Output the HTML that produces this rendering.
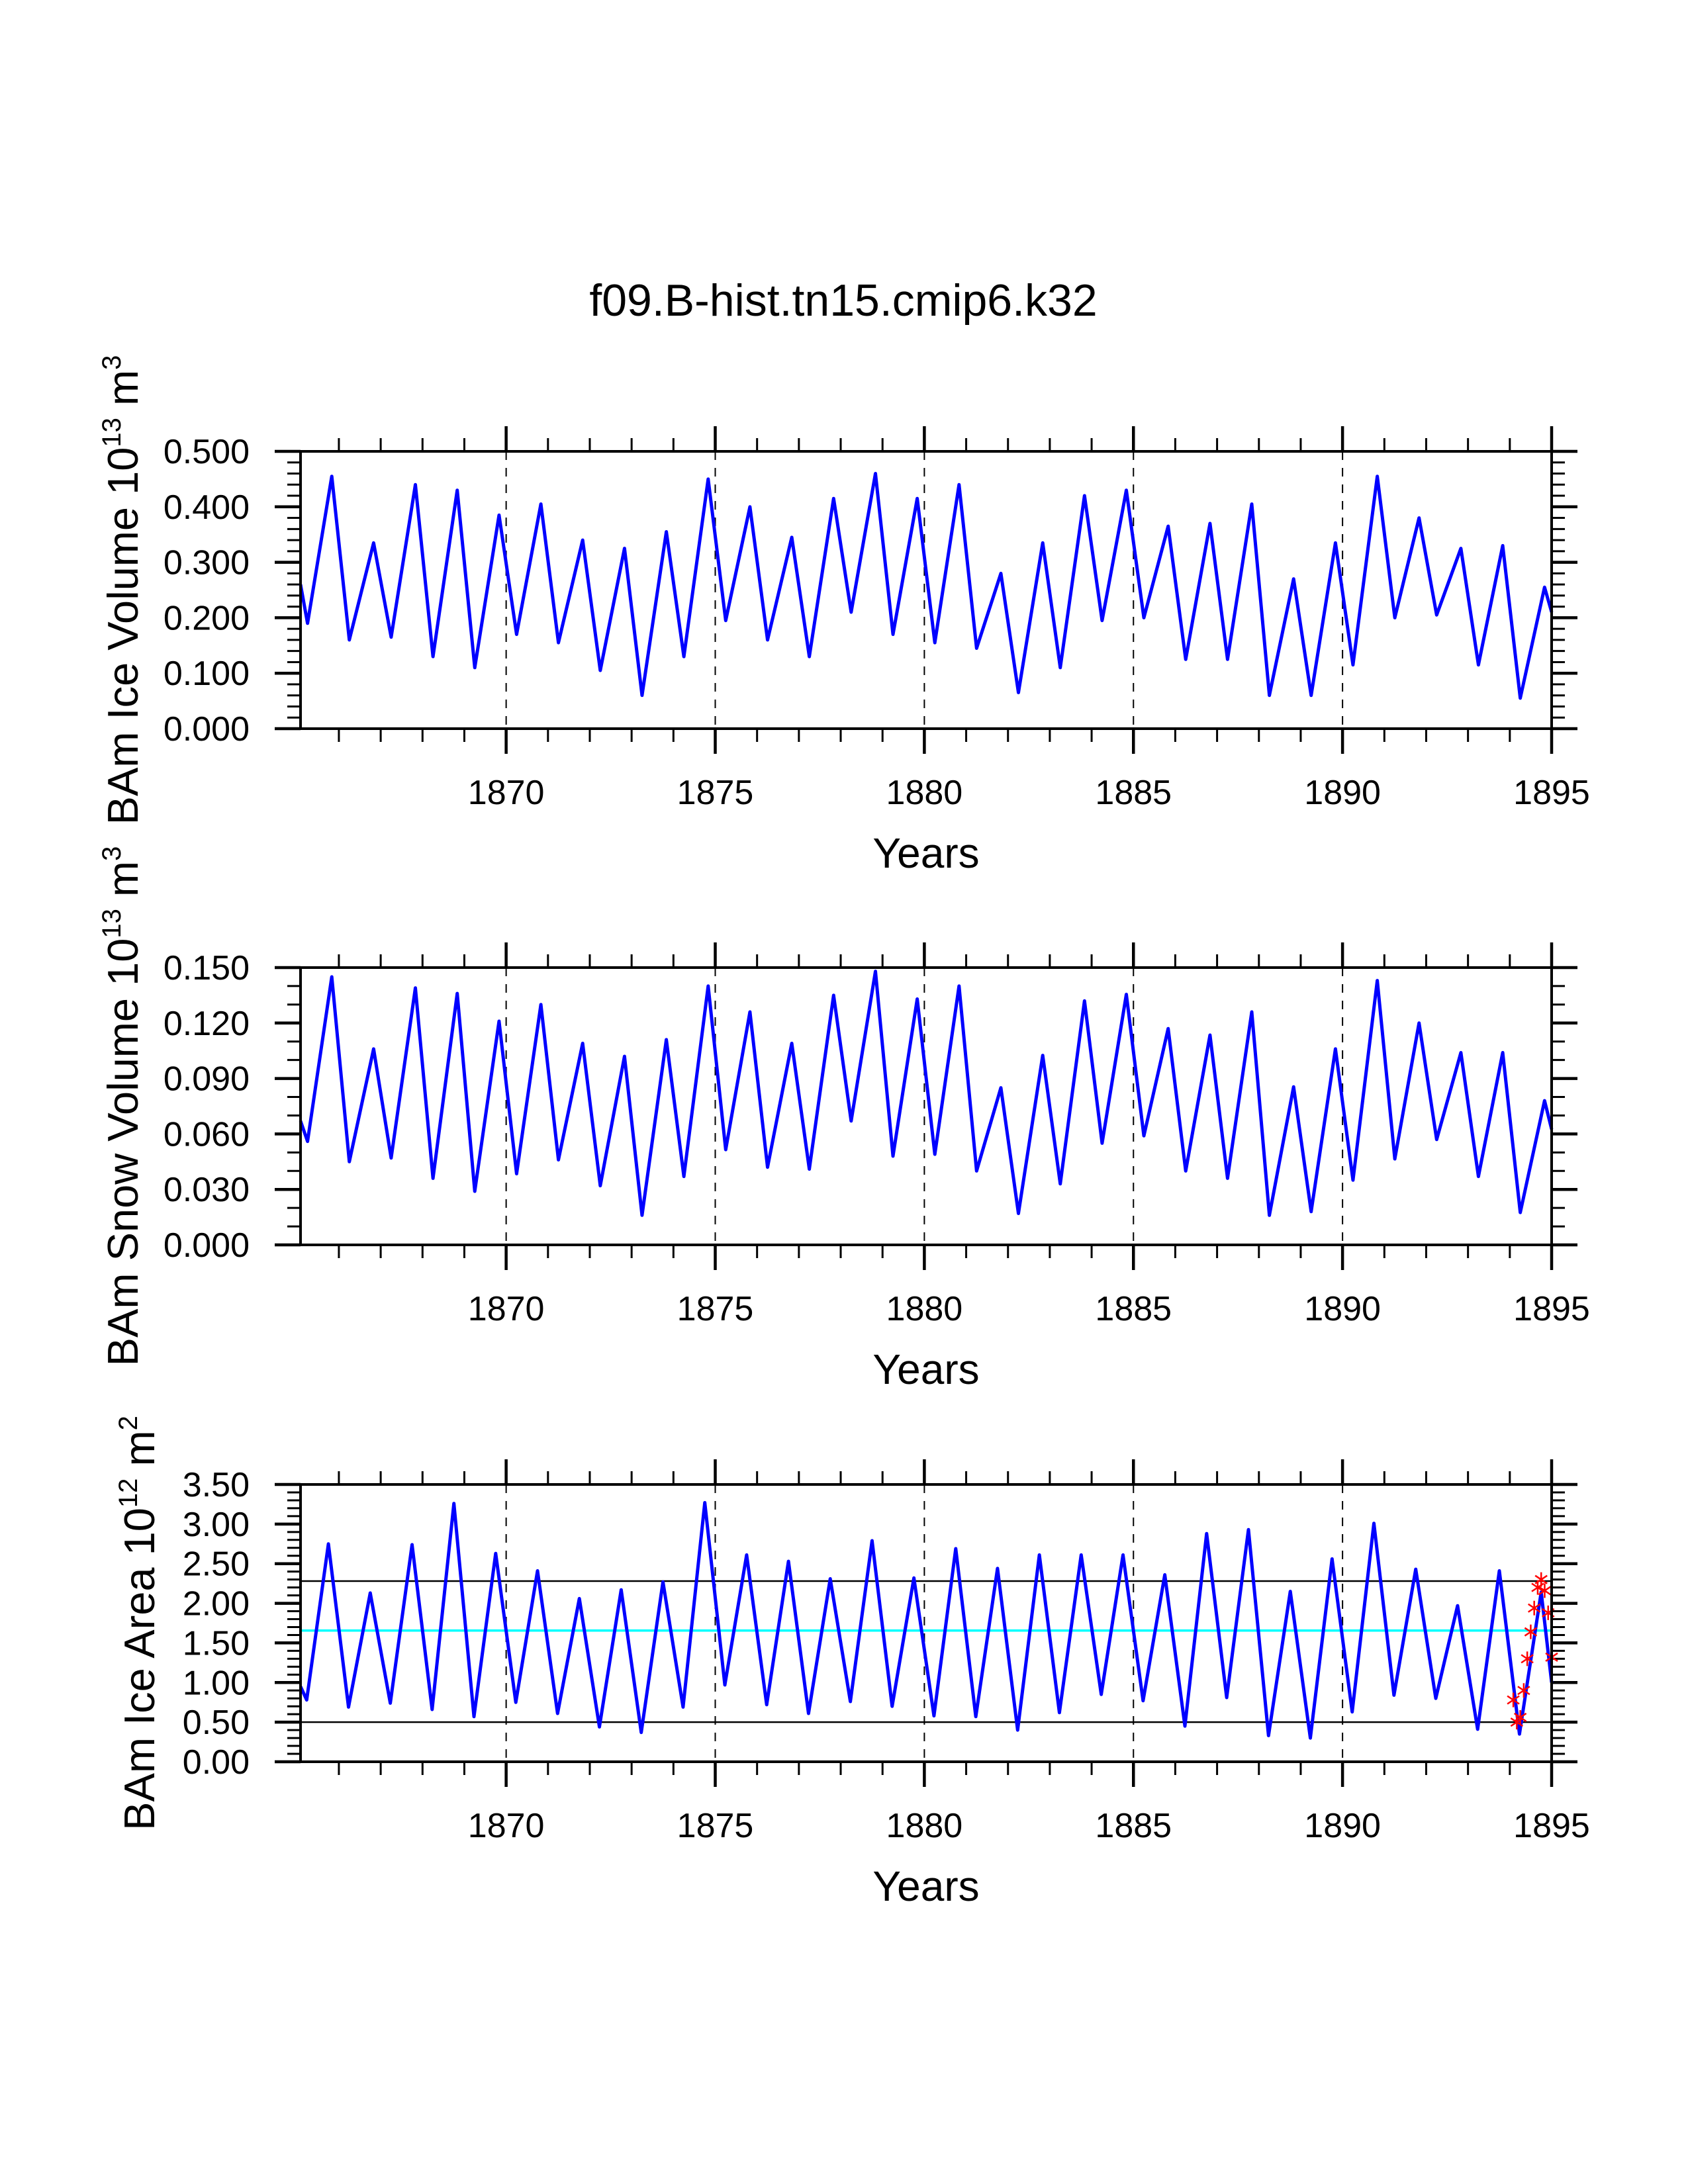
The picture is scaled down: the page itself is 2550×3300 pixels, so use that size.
<!DOCTYPE html>
<html><head><meta charset="utf-8"><style>
html,body{margin:0;padding:0;background:#fff}
svg{display:block}
text{font-family:"Liberation Sans",sans-serif;fill:#000}
</style></head><body>
<svg id="fig" width="2550" height="3300" viewBox="0 0 2550 3300" xmlns="http://www.w3.org/2000/svg">
<rect width="2550" height="3300" fill="#fff"/>
<text x="1274" y="477" font-size="68" text-anchor="middle">f09.B-hist.tn15.cmip6.k32</text>
</svg>
<script>
// ---- data ----
const years = [1865,1866,1867,1868,1869,1870,1871,1872,1873,1874,1875,1876,1877,1878,1879,1880,1881,1882,1883,1884,1885,1886,1887,1888,1889,1890,1891,1892,1893,1894];
const iceVolMin = [0.19,0.16,0.165,0.13,0.11,0.17,0.155,0.105,0.06,0.13,0.195,0.16,0.13,0.21,0.17,0.155,0.145,0.065,0.11,0.195,0.20,0.125,0.125,0.06,0.06,0.115,0.20,0.205,0.115,0.055];
const iceVolMax = [0.455,0.335,0.44,0.43,0.385,0.405,0.34,0.325,0.355,0.45,0.40,0.345,0.415,0.46,0.415,0.44,0.28,0.335,0.42,0.43,0.365,0.37,0.405,0.27,0.335,0.455,0.38,0.325,0.33,0.255];
const iceVolEnds = [0.26,0.21];
const snowMin = [0.056,0.045,0.047,0.036,0.029,0.0385,0.046,0.032,0.016,0.037,0.0515,0.042,0.041,0.067,0.048,0.049,0.040,0.017,0.033,0.055,0.059,0.040,0.036,0.016,0.018,0.035,0.0465,0.057,0.037,0.0175];
const snowMax = [0.145,0.106,0.139,0.136,0.121,0.130,0.109,0.102,0.111,0.140,0.126,0.109,0.135,0.148,0.133,0.140,0.085,0.1025,0.132,0.1355,0.117,0.1135,0.126,0.0855,0.106,0.143,0.120,0.104,0.104,0.078];
const snowEnds = [0.067,0.0625];
const areaMin = [0.78,0.69,0.74,0.66,0.57,0.75,0.61,0.44,0.37,0.69,0.97,0.72,0.61,0.76,0.70,0.58,0.57,0.40,0.62,0.85,0.77,0.45,0.81,0.33,0.30,0.63,0.84,0.80,0.41,0.35];
const areaMax = [2.75,2.13,2.74,3.26,2.63,2.41,2.06,2.17,2.27,3.27,2.61,2.53,2.31,2.79,2.32,2.69,2.44,2.61,2.61,2.61,2.36,2.88,2.93,2.15,2.56,3.01,2.43,1.97,2.41,2.14];
const areaEnds = [0.95,1.0];
const volMinT = 0.25, volMaxT = 0.83, areaMinT = 0.23, areaMaxT = 0.75;
const startT = 1865.083, endT = 1895.0;
const obsMonths = [1,2,3,4,5,6,7,8,9,10,11,12];
const obsArea = [0.78,0.50,0.56,0.90,1.30,1.64,1.94,2.20,2.30,2.16,1.88,1.32];
const areaRefLines = [2.28,0.5];
const areaMean = 1.656;
const xMajor = [1870,1875,1880,1885,1890,1895];
const xMinor = [1866,1867,1868,1869,1871,1872,1873,1874,1876,1877,1878,1879,1881,1882,1883,1884,1886,1887,1888,1889,1891,1892,1893,1894];
const ticks1 = ["0.000","0.100","0.200","0.300","0.400","0.500"];
const ticks2 = ["0.000","0.030","0.060","0.090","0.120","0.150"];
const ticks3 = ["0.00","0.50","1.00","1.50","2.00","2.50","3.00","3.50"];

// ---- layout ----
const NS = "http://www.w3.org/2000/svg";
const svg = document.getElementById('fig');
const L = 454, R = 2344, H = 419;
function el(tag, attrs, parent){const e=document.createElementNS(NS,tag);for(const k in attrs)e.setAttribute(k,attrs[k]);(parent||svg).appendChild(e);return e;}
function xs(t){return L + (t - startT)/(endT - startT)*(R-L);}

function panel(top, ymax, ticks, minorStep, name, titleParts, titleX){
  const g = el('g',{});
  
  
  const B = top + H;
  const ys = v => B - v/ymax*H;
  xMajor.slice(0,5).forEach(yr=>{
    const ln = el('line',{x1:xs(yr),x2:xs(yr),y1:top,y2:B,stroke:'#000','stroke-width':2,'stroke-dasharray':'13 12'},g);
    
    
  });
  xMajor.forEach(yr=>{
    const x = xs(yr);
    el('line',{x1:x,x2:x,y1:B,y2:B+38,stroke:'#000','stroke-width':4.5},g);
    el('line',{x1:x,x2:x,y1:top,y2:top-38,stroke:'#000','stroke-width':4.5},g);
    const t = el('text',{x:x,y:B+114,'font-size':52,'text-anchor':'middle'},g);
    t.textContent = yr;
    
    
  });
  xMinor.forEach(yr=>{
    const x = xs(yr);
    el('line',{x1:x,x2:x,y1:B,y2:B+20,stroke:'#000','stroke-width':3},g);
    el('line',{x1:x,x2:x,y1:top,y2:top-20,stroke:'#000','stroke-width':3},g);
  });
  const majStep = ymax/(ticks.length-1);
  ticks.forEach((lab,i)=>{
    const y = ys(i*majStep);
    el('line',{x1:L-39,x2:L,y1:y,y2:y,stroke:'#000','stroke-width':4.5},g);
    el('line',{x1:R,x2:R+39,y1:y,y2:y,stroke:'#000','stroke-width':4.5},g);
    const t = el('text',{x:377,y:y+18,'font-size':52,'text-anchor':'end'},g);
    t.textContent = lab;
    
    
  });
  const nMinor = Math.round(ymax/minorStep);
  for(let i=0;i<=nMinor;i++){
    const y = ys(i*minorStep);
    el('line',{x1:L-20,x2:L,y1:y,y2:y,stroke:'#000','stroke-width':3},g);
    el('line',{x1:R,x2:R+20,y1:y,y2:y,stroke:'#000','stroke-width':3},g);
  }
  const xt = el('text',{x:1399,y:B+210,'font-size':64,'text-anchor':'middle'},g);
  xt.textContent = 'Years';
  
  
  const cy = top + H/2;
  const yt = el('text',{x:0,y:0,'font-size':65,'text-anchor':'middle',transform:'translate('+titleX+','+cy+') rotate(-90)'},g);
  
  
  titleParts.forEach(p=>{
    const ts = el('tspan',{},yt);
    if(p[1]){ts.setAttribute('font-size','40');ts.setAttribute('dy','-26');}
    else if(p[2]){ts.setAttribute('dy','26');}
    ts.textContent = p[0];
  });
  return {g, ys, top, B};
}

function series(p, mins, maxs, ends, tmin, tmax, name){
  const pts = [[startT, ends[0]]];
  years.forEach((yr,i)=>{
    pts.push([yr+tmin, mins[i]]);
    pts.push([yr+tmax, maxs[i]]);
  });
  pts.push([endT, ends[1]]);
  const d = pts.map((q,i)=>(i?'L':'M')+xs(q[0]).toFixed(1)+' '+p.ys(q[1]).toFixed(1)).join(' ');
  const path = el('path',{d:d,fill:'none',stroke:'#0000ff','stroke-width':5,'stroke-linejoin':'round'},p.g);
  
  
}

function frame(p){
  const r = el('rect',{x:L,y:p.top,width:R-L,height:H,fill:'none',stroke:'#000','stroke-width':4},p.g);
  
  
}

const p1 = panel(682, 0.5, ticks1, 0.02, 'ice-volume', [['BAm Ice Volume 10'],['13',true],[' m',false,true],['3',true]], 208);
series(p1, iceVolMin, iceVolMax, iceVolEnds, volMinT, volMaxT, 'ice-volume-line');
frame(p1);

const p2 = panel(1462, 0.15, ticks2, 0.01, 'snow-volume', [['BAm Snow Volume 10'],['13',true],[' m',false,true],['3',true]], 208);
series(p2, snowMin, snowMax, snowEnds, volMinT, volMaxT, 'snow-volume-line');
frame(p2);

const p3 = panel(2243, 3.5, ticks3, 0.1, 'ice-area', [['BAm Ice Area 10'],['12',true],[' m',false,true],['2',true]], 233);
areaRefLines.forEach(v=>{
  const ln = el('line',{x1:L,x2:R,y1:p3.ys(v),y2:p3.ys(v),stroke:'#000','stroke-width':2.5},p3.g);
  
  
});
const mline = el('line',{x1:L,x2:R,y1:p3.ys(areaMean),y2:p3.ys(areaMean),stroke:'#00ffff','stroke-width':3.5},p3.g);


series(p3, areaMin, areaMax, areaEnds, areaMinT, areaMaxT, 'ice-area-line');
obsMonths.forEach((m,i)=>{
  const x = xs(1894 + m/12), y = p3.ys(obsArea[i]);
  const g = el('g',{stroke:'#ff0000','stroke-width':2.5},p3.g);
  
  
  el('line',{x1:x-9,y1:y-6,x2:x+9,y2:y+6},g);
  el('line',{x1:x-9,y1:y+6,x2:x+9,y2:y-6},g);
  el('line',{x1:x,y1:y-11,x2:x,y2:y+11},g);
});
frame(p3);
</script>
</body></html>
